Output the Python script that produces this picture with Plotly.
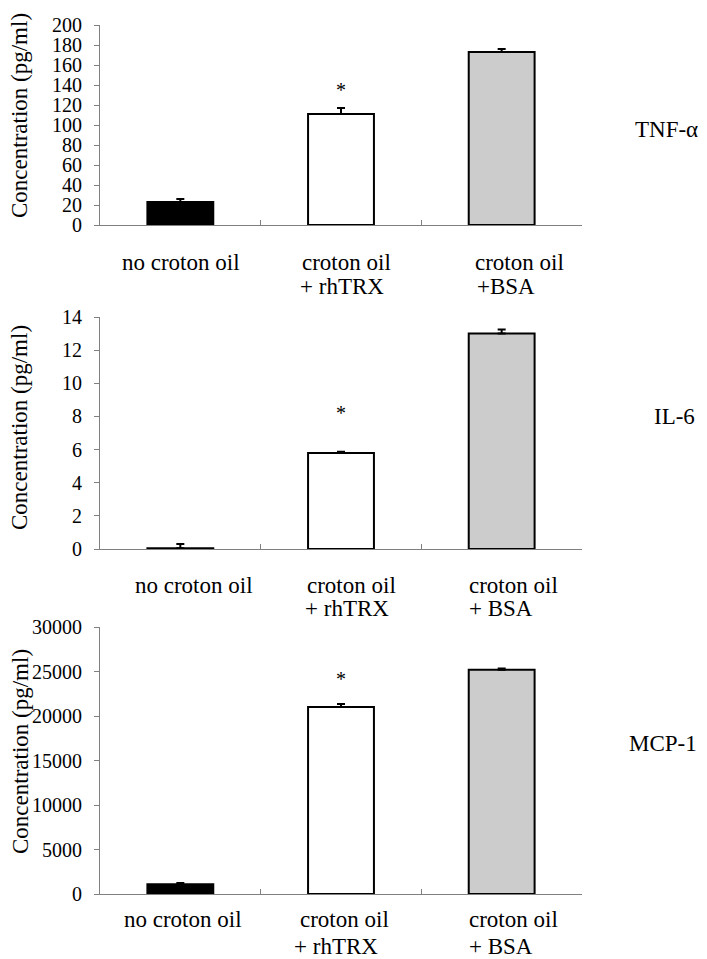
import plotly.graph_objects as go

# the page body adds an 8px margin, so the figure is 8px smaller and
# reference pixel positions are shifted by 8 before converting to paper units
PAGE_OFF = 8
W, H = 707 - PAGE_OFF, 959 - PAGE_OFF

categories = ["no croton oil", "croton oil + rhTRX", "croton oil + BSA"]
bar_colors = ["#000000", "#ffffff", "#cccccc"]

tnf_mean = [23, 111, 173]
tnf_err = [3, 6, 3]
il6_mean = [0.05, 5.8, 13.0]
il6_err = [0.25, 0.07, 0.25]
mcp1_mean = [1100, 21000, 25200]
mcp1_err = [150, 350, 150]

panel_names = ["TNF-α", "IL-6", "MCP-1"]
y_ranges = [[0, 200], [0, 14], [0, 30000]]
y_dticks = [20, 2, 5000]
star_y = [135, 8.2, 24200]

# x tick label lines for each panel (two lines where the original wraps)
tick_lines = [
    [["no croton oil"], ["croton oil", "+ rhTRX"], ["croton oil", "+BSA"]],
    [["no croton oil"], ["croton oil", "+ rhTRX"], ["croton oil", "+ BSA"]],
    [["no croton oil"], ["croton oil", "+ rhTRX"], ["croton oil", "+ BSA"]],
]

FONT = "Liberation Serif, Times New Roman, serif"
AXIS_GREY = "#808080"


def px_x(p):
    return (p - PAGE_OFF) / W


def px_y(p):
    return 1 - (p - PAGE_OFF) / H


# pixel layout of each plot area in the reference: (top, bottom)
plot_left, plot_right = 100, 582
plot_rows = [(25, 225), (317, 549), (627, 894)]
# left edge of each label line relative to category centre, per panel
label_shift = [
    [[-60], [-41, -43], [-29, -27]],
    [[-47], [-36, -38], [-35, -35]],
    [[-58], [-43, -49], [-35, -35]],
]
label_dy = [[-37, -61], [-36, -59], [-25, -52]]
ytitle_pos = [(20, 116), (20, 428), (20, 752)]
name_pos = [(666, 130), (674, 416), (663, 743)]

means = [tnf_mean, il6_mean, mcp1_mean]
errs = [tnf_err, il6_err, mcp1_err]

fig = go.Figure()
annotations = []
layout = {}

for i in range(3):
    n = "" if i == 0 else str(i + 1)
    xa, ya = "x" + n, "y" + n
    fig.add_trace(
        go.Bar(
            x=categories,
            y=means[i],
            width=0.41,
            marker={"color": bar_colors, "line": {"color": "black", "width": 2}},
            error_y={
                "type": "data",
                "symmetric": False,
                "array": errs[i],
                "arrayminus": [0, 0, 0],
                "color": "black",
                "thickness": 2,
                "width": 4,
            },
            xaxis=xa,
            yaxis=ya,
            showlegend=False,
        )
    )
    top, bottom = plot_rows[i]
    layout["xaxis" + n] = {
        "domain": [px_x(plot_left), px_x(plot_right)],
        "anchor": ya,
        "type": "category",
        "categoryorder": "array",
        "categoryarray": categories,
        "range": [-0.5, 2.5],
        "tickson": "boundaries",
        "ticks": "inside",
        "ticklen": 5,
        "tickcolor": AXIS_GREY,
        "showticklabels": False,
        "showline": True,
        "linecolor": AXIS_GREY,
        "linewidth": 1,
        "showgrid": False,
        "zeroline": False,
        "automargin": False,
    }
    layout["yaxis" + n] = {
        "domain": [px_y(bottom), px_y(top)],
        "anchor": xa,
        "range": y_ranges[i],
        "dtick": y_dticks[i],
        "tick0": 0,
        "tickformat": "d",
        "ticks": "outside",
        "ticklen": 5,
        "tickcolor": AXIS_GREY,
        "ticklabelstandoff": 8,
        "showline": True,
        "linecolor": AXIS_GREY,
        "linewidth": 1,
        "showgrid": False,
        "zeroline": False,
        "automargin": False,
        "tickfont": {"family": FONT, "size": 20, "color": "black"},
    }

    # significance star over the rhTRX bar
    annotations.append(
        dict(
            x=categories[1], y=star_y[i], xref=xa, yref=ya, text="*",
            showarrow=False, font={"family": FONT, "size": 20, "color": "black"},
        )
    )
    # category labels
    for c, lines in enumerate(tick_lines[i]):
        for k, line in enumerate(lines):
            annotations.append(
                dict(
                    x=categories[c], y=0, xref=xa, yref=ya + " domain",
                    text=line, showarrow=False, xanchor="left", yanchor="middle",
                    xshift=label_shift[i][c][k], yshift=label_dy[i][k],
                    font={"family": FONT, "size": 23, "color": "black"},
                )
            )
    # y-axis title
    tx, ty = ytitle_pos[i]
    annotations.append(
        dict(
            x=px_x(tx), y=px_y(ty), xref="paper", yref="paper",
            text="Concentration (pg/ml)", textangle=-90, showarrow=False,
            xanchor="center", yanchor="middle",
            font={"family": FONT, "size": 23, "color": "black"},
        )
    )
    # cytokine name on the right
    nx, ny = name_pos[i]
    annotations.append(
        dict(
            x=px_x(nx), y=px_y(ny), xref="paper", yref="paper",
            text=panel_names[i], showarrow=False,
            xanchor="center", yanchor="middle",
            font={"family": FONT, "size": 23, "color": "black"},
        )
    )

fig.update_layout(
    width=W,
    height=H,
    margin={"l": 0, "r": 0, "t": 0, "b": 0, "autoexpand": False},
    paper_bgcolor="white",
    plot_bgcolor="white",
    annotations=annotations,
    **layout,
)

fig.write_html("out.html")
